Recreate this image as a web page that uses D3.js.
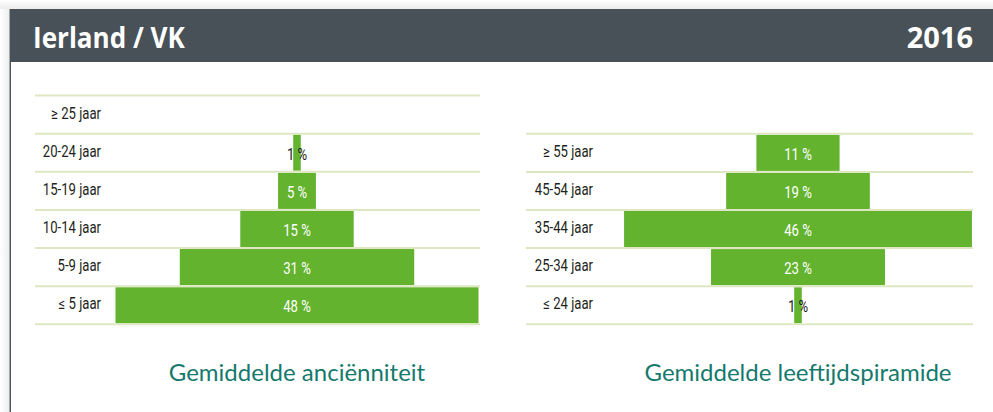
<!DOCTYPE html>
<html>
<head>
<meta charset="utf-8">
<script src="https://cdn.jsdelivr.net/npm/d3@7"></script>
<style>
  body { margin: 0; background: #fff; }
  svg { display: block; }
</style>
</head>
<body>
<div id="graph"></div>
<script>
const W = 993, H = 412

// data
const tenureCats = ["≥ 25 jaar", "20-24 jaar", "15-19 jaar", "10-14 jaar", "5-9 jaar", "≤ 5 jaar"]
const tenureVals = [0, 1, 5, 15, 31, 48]
const ageCats = ["≥ 55 jaar", "45-54 jaar", "35-44 jaar", "25-34 jaar", "≤ 24 jaar"]
const ageVals = [11, 19, 46, 23, 1]
const titleLeft = "Ierland / VK"
const titleRight = "2016"
const chartTitles = ["Gemiddelde anciënniteit", "Gemiddelde leeftijdspiramide"]

const GREEN = "#64b32f"
const GRID = "#dde8c3"
const TEAL = "#157a6c"
const LABEL_FONT = "Roboto, 'DejaVu Sans Condensed', sans-serif"
const NARROW = 0.82   // squeeze labels to mimic a condensed face

const svg = d3.select("#graph").append("svg")
    .attr("width", W)
    .attr("height", H)

// page shadow / frame
const defs = svg.append("defs")
const grad = defs.append("linearGradient").attr("id", "topShade")
    .attr("x1", 0).attr("y1", 0).attr("x2", 0).attr("y2", 1)
grad.append("stop").attr("offset", "0%").attr("stop-color", "#ffffff")
grad.append("stop").attr("offset", "100%").attr("stop-color", "#ececec")
svg.append("rect").attr("x", 0).attr("y", 0).attr("width", W).attr("height", 9)
    .attr("fill", "url(#topShade)")
const lgrad = defs.append("linearGradient").attr("id", "leftShade")
    .attr("x1", 0).attr("y1", 0).attr("x2", 1).attr("y2", 0)
lgrad.append("stop").attr("offset", "0%").attr("stop-color", "#ffffff")
lgrad.append("stop").attr("offset", "100%").attr("stop-color", "#eeeeee")
svg.append("rect").attr("x", 0).attr("y", 9).attr("width", 9).attr("height", H - 9)
    .attr("fill", "url(#leftShade)")
svg.append("rect").attr("x", 9.5).attr("y", 9).attr("width", 1.5).attr("height", H - 9)
    .attr("fill", "#4a545a")

// header
svg.append("rect")
    .attr("x", 10).attr("y", 9)
    .attr("width", W - 10).attr("height", 53)
    .attr("fill", "#485157")
svg.append("text")
    .attr("transform", "translate(33,48) scale(0.9,1)")
    .attr("font-family", "'Open Sans', sans-serif")
    .attr("font-weight", 700)
    .attr("font-size", "29px")
    .attr("fill", "#fff")
    .text(titleLeft)
svg.append("text")
    .attr("x", 973).attr("y", 48)
    .attr("text-anchor", "end")
    .attr("font-family", "'Open Sans', sans-serif")
    .attr("font-weight", 700)
    .attr("font-size", "29px")
    .attr("fill", "#fff")
    .text(titleRight)

// shared width scale (percent -> px)
const w = d3.scaleLinear().domain([0, 48]).range([0, 363])

function pyramid(cats, vals, opts) {
    const g = svg.append("g")
    const y = d3.scaleBand().domain(cats).range([opts.top, opts.bottom]).padding(0)
    const data = cats.map((c, i) => ({ cat: c, val: vals[i] }))

    g.selectAll(".bar")
        .data(data.filter(d => d.val > 0))
        .enter().append("rect")
        .attr("x", d => opts.center - w(d.val) / 2)
        .attr("y", d => y(d.cat) + 1)
        .attr("width", d => w(d.val))
        .attr("height", y.bandwidth() - 2)
        .attr("fill", GREEN)

    // grid lines at band edges
    const edges = cats.map(c => y(c)).concat([opts.bottom])
    g.selectAll(".grid")
        .data(edges)
        .enter().append("line")
        .attr("x1", opts.x0).attr("x2", opts.x1)
        .attr("y1", d => d).attr("y2", d => d)
        .attr("stroke", GRID)
        .attr("stroke-width", 2)

    g.selectAll(".cat")
        .data(data)
        .enter().append("text")
        .attr("transform", d => `translate(${opts.labelX},${y(d.cat) + y.bandwidth() / 2 + 4}) scale(${NARROW},1)`)
        .attr("text-anchor", "end")
        .attr("font-family", LABEL_FONT)
        .attr("font-size", "16px")
        .attr("fill", "#231f20")
        .text(d => d.cat)

    g.selectAll(".val")
        .data(data.filter(d => d.val > 0))
        .enter().append("text")
        .attr("transform", d => `translate(${opts.center},${y(d.cat) + y.bandwidth() / 2 + 7}) scale(${NARROW},1)`)
        .attr("text-anchor", "middle")
        .attr("font-family", LABEL_FONT)
        .attr("font-size", "16px")
        .attr("fill", d => w(d.val) > 28 ? "#ffffff" : "#231f20")
        .text(d => d.val + " %")

    svg.append("text")
        .attr("x", opts.center)
        .attr("y", 381)
        .attr("text-anchor", "middle")
        .attr("font-family", "Lato, sans-serif")
        .attr("font-size", "24px")
        .attr("fill", TEAL)
        .text(opts.title)
}

pyramid(tenureCats, tenureVals, {
    top: 95.5, bottom: 324.3, x0: 35, x1: 480, labelX: 101, center: 297, title: chartTitles[0]
})
pyramid(ageCats, ageVals, {
    top: 133.8, bottom: 324.3, x0: 526, x1: 973, labelX: 593, center: 798, title: chartTitles[1]
})
</script>
</body>
</html>
